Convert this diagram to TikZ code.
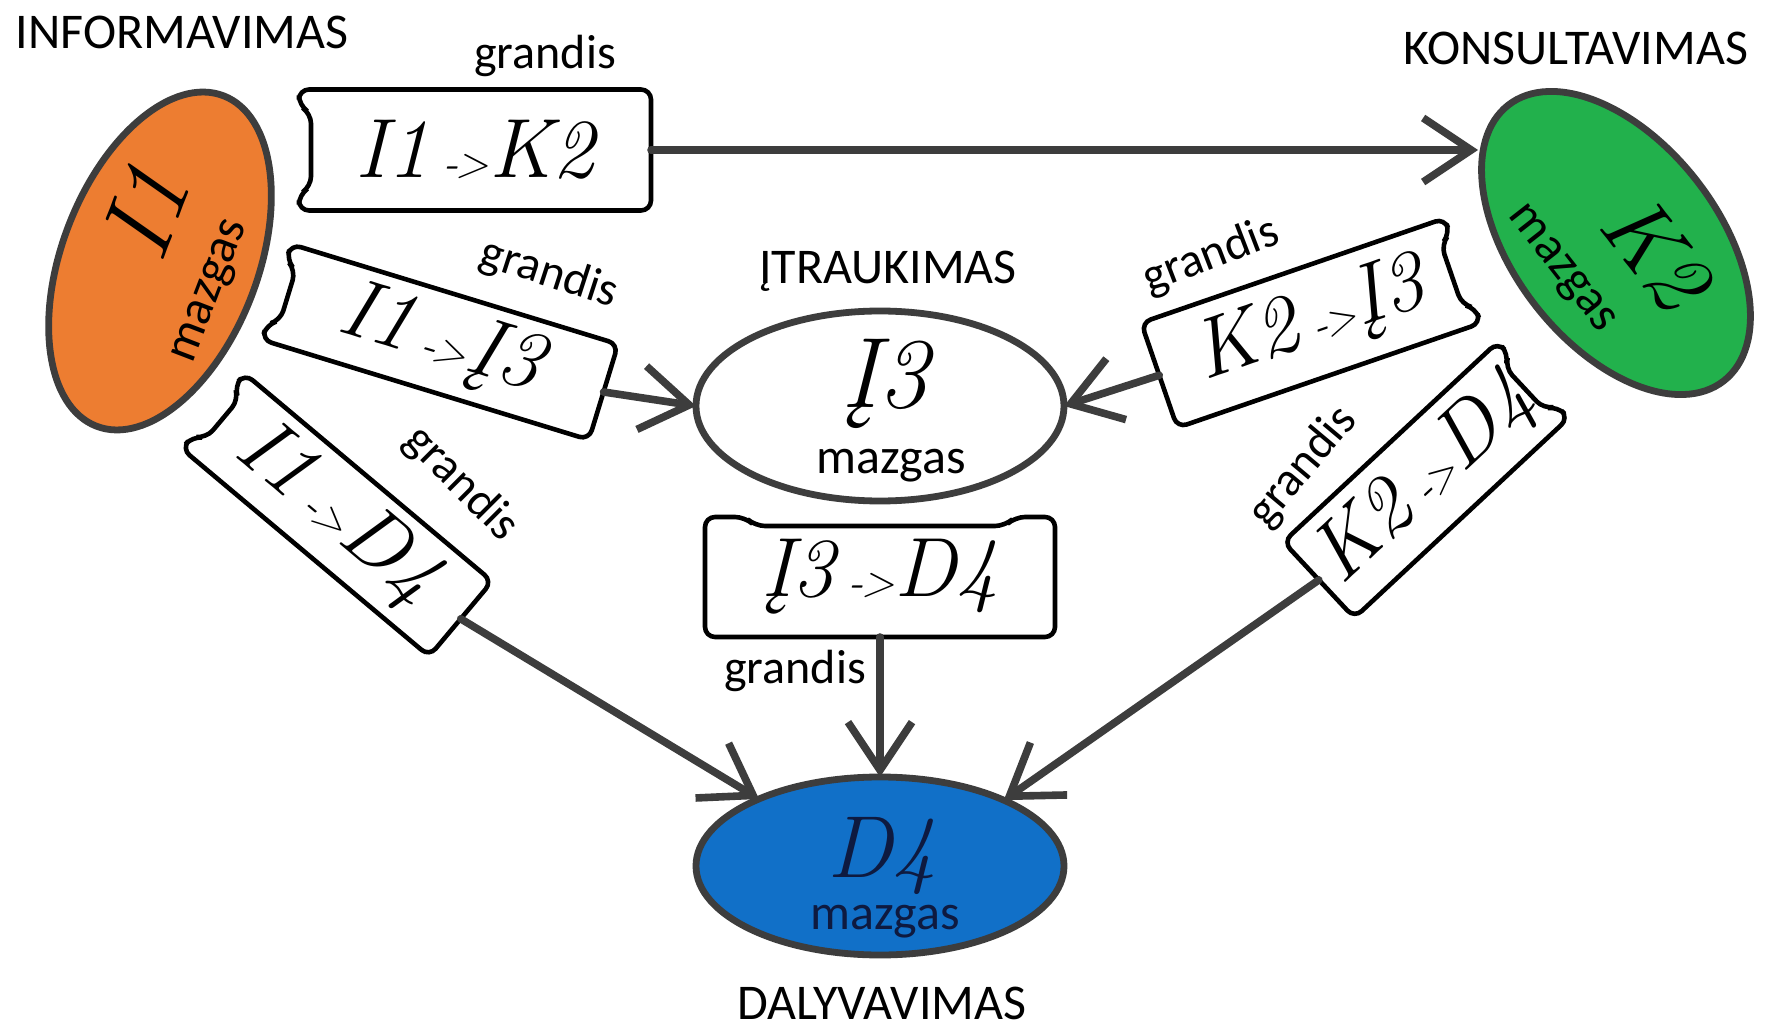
\documentclass[tikz,border=0pt]{standalone}
\usepackage{fontspec}
\setmainfont{Latin Modern Roman}
\newfontfamily\calib{Carlito}
\usetikzlibrary{shapes.geometric,arrows.meta}
\definecolor{edge}{HTML}{3D3D3D}
\definecolor{orng}{HTML}{ED7D31}
\definecolor{grn}{HTML}{22B14C}
\definecolor{blu}{HTML}{1170C8}
\definecolor{navy}{HTML}{0E1A40}
\newcommand\lnkarr{\,{\fontsize{22}{22}\selectfont-\kern-1.5pt>}}
\tikzset{
  lab/.style={font=\calib\fontsize{25}{25}\selectfont, inner sep=0pt},
  grand/.style={font=\calib\fontsize{24}{24}\selectfont, inner sep=0pt},
  scr/.style={font=\itshape\fontsize{42}{42}\selectfont, inner sep=0pt, outer sep=0pt},
  bigscr/.style={font=\itshape\fontsize{50}{50}\selectfont, inner sep=0pt},
  nodeell/.style={ellipse, draw=edge, line width=3.4pt, inner sep=0pt, outer sep=0pt},
  boxline/.style={draw=black, line width=2.3pt, rounded corners=5pt, fill=white},
  conn/.style={draw=edge, line width=3.8pt, line cap=round, -{Straight Barb[length=24pt,width=32pt]}},
}
% name, x, y, angle, w, h, notch (0 left, 1 right, 2 top), text
\newcommand\linkbox[8]{%
  \begin{scope}[shift={(#2,#3)}, rotate=#4]
    \pgfmathsetmacro\bw{#5/2}\pgfmathsetmacro\bh{#6/2}
    \ifcase#7
      \path[boxline] (-\bw,-\bh) -- (\bw,-\bh) -- (\bw,\bh) -- (-\bw,\bh) -- (-\bw,\bh-16) -- (-\bw+12,\bh-24) -- (-\bw+12,-\bh+24) -- (-\bw,-\bh+16) -- cycle;
    \or
      \path[boxline] (\bw,-\bh) -- (-\bw,-\bh) -- (-\bw,\bh) -- (\bw,\bh) -- (\bw,\bh-16) -- (\bw-12,\bh-24) -- (\bw-12,-\bh+24) -- (\bw,-\bh+16) -- cycle;
    \or
      \path[boxline] (-\bw,-\bh) -- (-\bw,\bh) -- (\bw,\bh) -- (\bw,-\bh) -- (\bw-40,-\bh) -- (\bw-50,-\bh+9) -- (-\bw+50,-\bh+9) -- (-\bw+40,-\bh) -- cycle;
    \fi
    \node[scr, transform shape, minimum width=#5*0.5pt, minimum height=#6*0.5pt] (#1) at (0,0) {#8};
  \end{scope}}
\begin{document}
\begin{tikzpicture}[x=0.5pt, y=-0.5pt]
\useasboundingbox[fill=white] (0,0) rectangle (1769,1032);

% titles
\node[lab] (tInf) at (182,32) {INFORMAVIMAS};
\node[lab] (tKon) at (1576,48) {KONSULTAVIMAS};
\node[lab] (tItr) at (888,271) {ĮTRAUKIMAS};
\node[lab] (tDal) at (882,1003) {DALYVAVIMAS};

% nodes (ellipses)
\node[nodeell, fill=orng, rotate=-21, minimum width=196*0.5pt, minimum height=354*0.5pt] (I1) at (160,261) {};
\node[nodeell, fill=grn, rotate=38, minimum width=204*0.5pt, minimum height=350*0.5pt] (K2) at (1616,243) {};
\node[nodeell, fill=white, minimum width=368*0.5pt, minimum height=190*0.5pt] (I3) at (880,406) {};
\node[nodeell, fill=blu, minimum width=368*0.5pt, minimum height=178*0.5pt] (D4) at (880,866) {};

\node[bigscr, rotate=69] (I1t) at (145,212) {I1};
\node[lab, rotate=69] (I1m) at (212,292) {mazgas};
\node[bigscr, font=\itshape\fontsize{46}{46}\selectfont, rotate=-52] (K2t) at (1656,252) {K2};
\node[lab, rotate=-52] (K2m) at (1560,270) {mazgas};
\node[bigscr] (I3t) at (885,384) {Į3};
\node[lab] (I3m) at (891,466) {mazgas};
\node[bigscr, font=\itshape\fontsize{44}{44}\selectfont, text=navy] (D4t) at (882,856) {D4};
\node[lab, text=navy] (D4m) at (885,922) {mazgas};

% link boxes
\linkbox{b1}{475}{150}{0}{352}{121}{0}{I1\lnkarr K2}
\linkbox{b2}{440}{342}{-17}{342}{100}{0}{I1\lnkarr Į3}
\linkbox{b3}{337}{515}{-40}{323}{98}{0}{I1\lnkarr D4}
\linkbox{b4}{880}{577}{0}{350}{120}{2}{Į3\lnkarr D4}
\linkbox{b5}{1311}{323}{19}{321}{111}{1}{K2\lnkarr Į3}
\linkbox{b6}{1426}{480}{43}{293}{104}{1}{K2\lnkarr D4}

% link labels
\node[grand] (g1) at (545,56) {grandis};
\node[grand, rotate=-18] (g2) at (549,274) {grandis};
\node[grand, rotate=-45] (g3) at (461,484) {grandis};
\node[grand] (g4) at (795,671) {grandis};
\node[grand, rotate=21] (g5) at (1211,256) {grandis};
\node[grand, rotate=50] (g6) at (1303,467) {grandis};

% connectors
\coordinate (K2in) at (1478,150);
\draw[conn] (b1.east) -- (K2in);
\draw[conn] (b2.east) -- (I3.west);
\draw[conn] (b3.east) -- (D4.151);
\draw[conn] (b4.south) -- (b4.south |- D4.north);
\draw[conn] (b5.west) -- (I3.east);
\draw[conn] (b6.west) -- (D4.28);
\end{tikzpicture}
\end{document}
